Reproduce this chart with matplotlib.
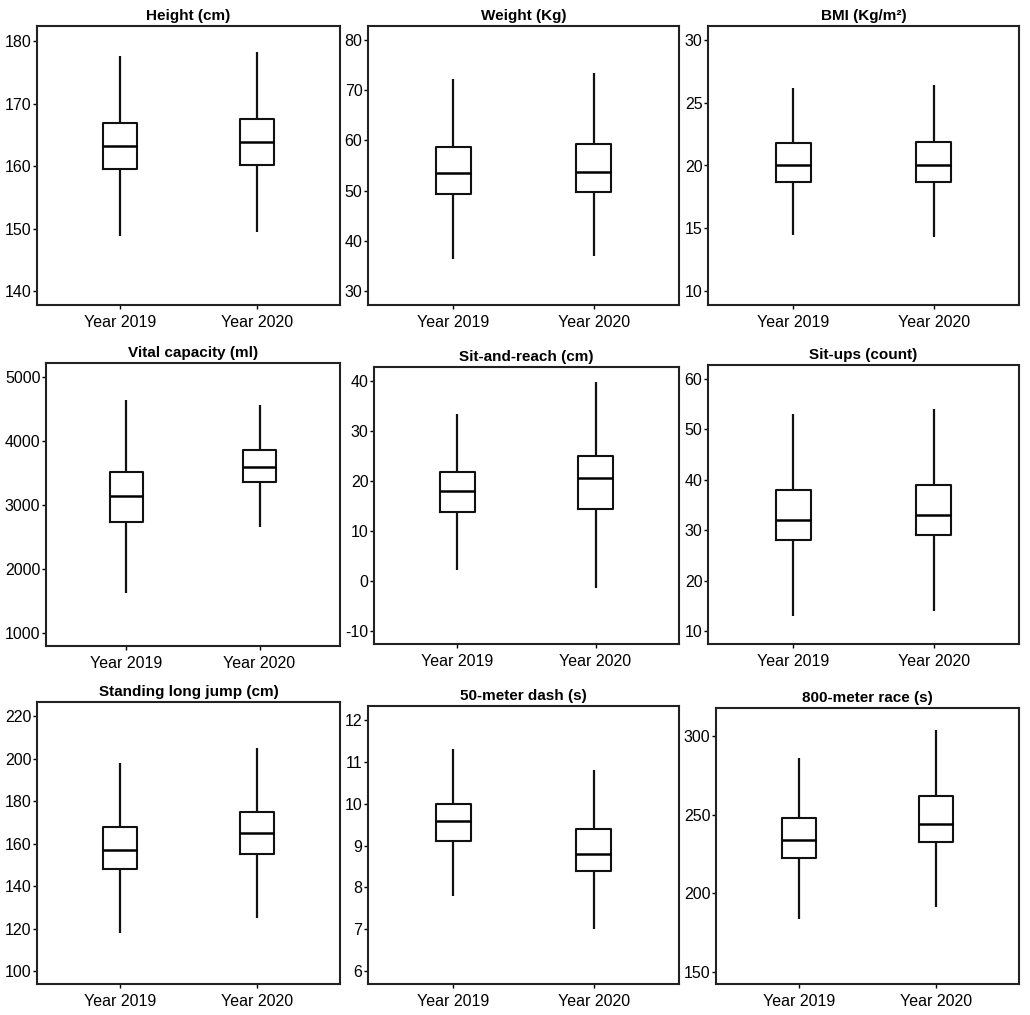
import matplotlib.pyplot as plt

plt.rcParams["font.family"] = ["Liberation Sans", "DejaVu Sans"]
plt.rcParams["axes.unicode_minus"] = False

groups = ["Year 2019", "Year 2020"]

titles = [
    "Height (cm)", "Weight (Kg)", "BMI (Kg/m²)",
    "Vital capacity (ml)", "Sit-and-reach (cm)", "Sit-ups (count)",
    "Standing long jump (cm)", "50-meter dash (s)", "800-meter race (s)",
]

# five-number summaries per panel: [whislo, q1, median, q3, whishi] for 2019 and 2020
height = [[148.9, 159.6, 163.2, 166.9, 177.6], [149.4, 160.2, 163.9, 167.5, 178.2]]
weight = [[36.3, 49.4, 53.5, 58.7, 72.2], [37.0, 49.7, 53.8, 59.3, 73.5]]
bmi = [[14.45, 18.7, 20.05, 21.8, 26.2], [14.3, 18.7, 20.0, 21.9, 26.4]]
vital = [[1625, 2747, 3148, 3519, 4651], [2663, 3372, 3597, 3863, 4562]]
sit_reach = [[2.2, 13.9, 18.0, 21.9, 33.4], [-1.3, 14.5, 20.7, 25.1, 39.9]]
sit_ups = [[13, 28, 32, 38, 53], [14, 29, 33, 39, 54]]
long_jump = [[118, 148, 157, 168, 198], [125, 155, 165, 175, 205]]
dash50 = [[7.8, 9.1, 9.6, 10.0, 11.3], [7.0, 8.4, 8.8, 9.4, 10.8]]
race800 = [[183.4, 222.2, 233.8, 248.0, 286.4], [191.2, 232.8, 244.0, 261.8, 304.3]]

all_data = [height, weight, bmi, vital, sit_reach, sit_ups, long_jump, dash50, race800]

yticks = [
    [140, 150, 160, 170, 180],
    [30, 40, 50, 60, 70, 80],
    [10, 15, 20, 25, 30],
    [1000, 2000, 3000, 4000, 5000],
    [-10, 0, 10, 20, 30, 40],
    [10, 20, 30, 40, 50, 60],
    [100, 120, 140, 160, 180, 200, 220],
    [6, 7, 8, 9, 10, 11, 12],
    [150, 200, 250, 300],
]

ylims = [
    (137.8, 182.4), (27.2, 82.8), (8.9, 31.1),
    (801, 5225), (-12.6, 42.9), (7.4, 62.8),
    (93.9, 226.8), (5.69, 12.34), (142.2, 318),
]

# axes boxes in pixels: left, right, top, bottom
boxes = [
    (37, 340, 26, 305), (368, 679, 26, 305), (708, 1019, 26, 305),
    (46, 340, 363, 646), (374, 679, 367, 644), (708, 1019, 365, 644),
    (37, 340, 702, 984), (368, 679, 706, 984), (716, 1019, 708, 984),
]

W, H = 1030, 1015
fig = plt.figure(figsize=(W / 100, H / 100), dpi=100)

for i in range(9):
    l, r, t, b = boxes[i]
    ax = fig.add_axes([l / W, 1 - b / H, (r - l) / W, (b - t) / H])
    stats = []
    for g, s in zip(groups, all_data[i]):
        stats.append({"label": g, "whislo": s[0], "q1": s[1], "med": s[2],
                      "q3": s[3], "whishi": s[4], "fliers": []})
    ax.bxp(stats, positions=[1, 2], widths=0.25, showcaps=False, showfliers=False,
           boxprops=dict(color="#111111", linewidth=1.5),
           whiskerprops=dict(color="#111111", linewidth=1.6, solid_capstyle="butt"),
           medianprops=dict(color="black", linewidth=1.8))
    ax.set_xlim(0.395, 2.605)
    ax.set_ylim(*ylims[i])
    ax.set_yticks(yticks[i])
    ax.set_title(titles[i], fontsize=11, fontweight="bold", pad=4)
    ax.tick_params(axis="both", labelsize=11.5, length=3, width=1, colors="black")
    ax.tick_params(axis="y", pad=1)
    ax.tick_params(axis="x", pad=4)
    for sp in ax.spines.values():
        sp.set_linewidth(1.5)
        sp.set_color("#222222")

fig.savefig("out.png", dpi=100)
plt.close(fig)
